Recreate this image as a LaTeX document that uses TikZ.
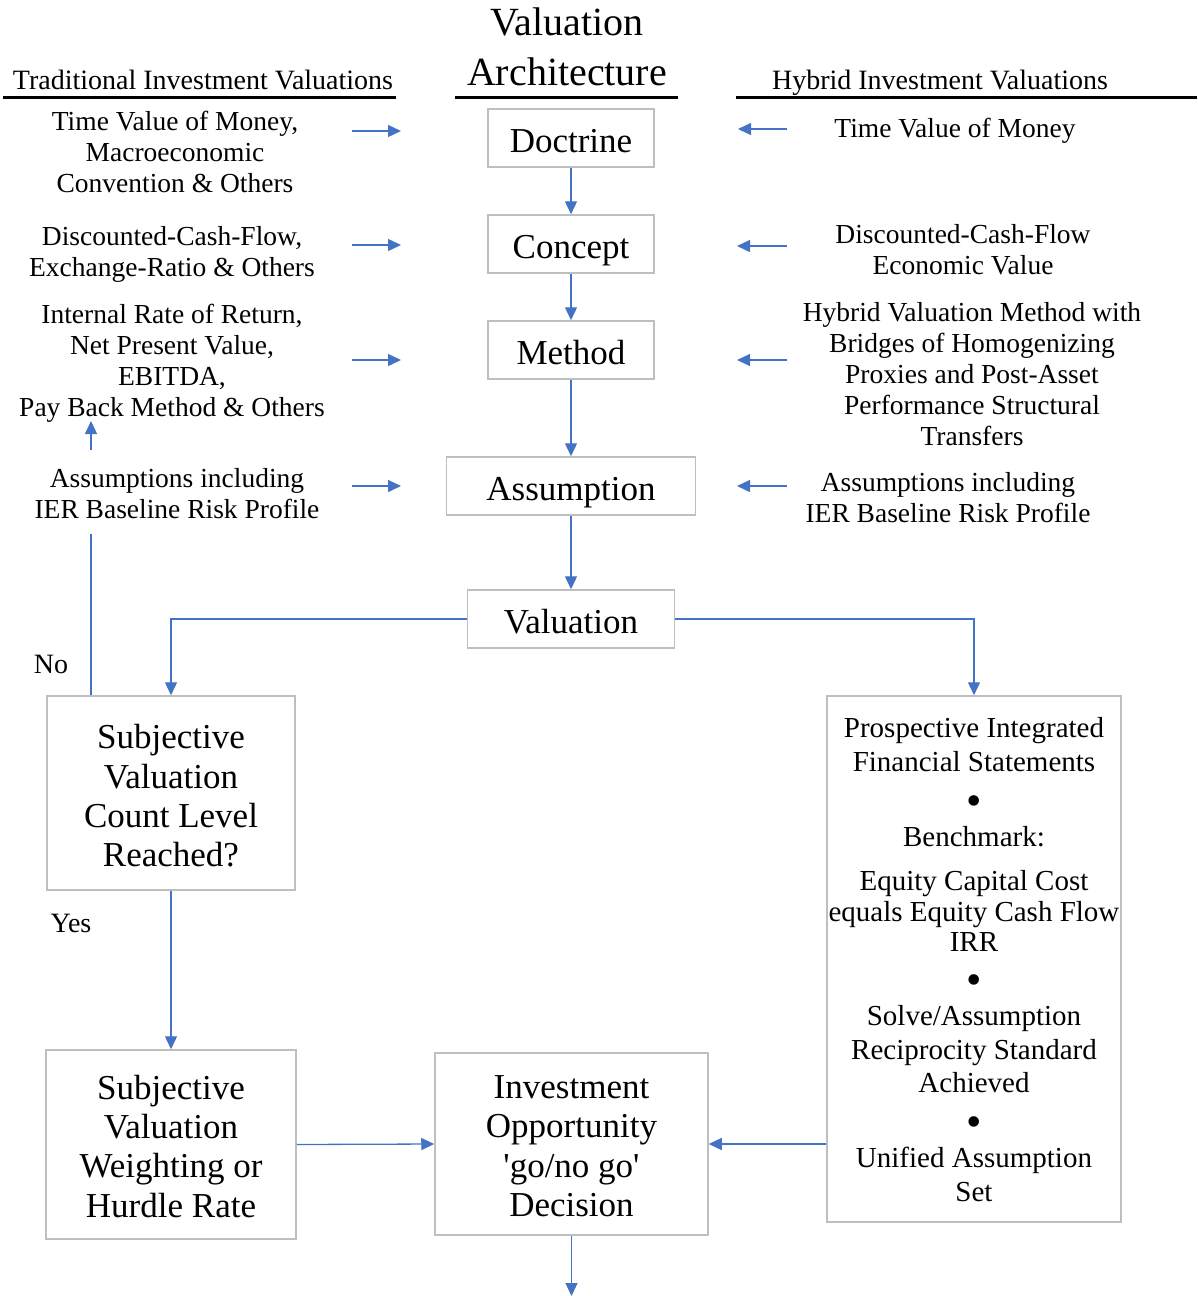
\documentclass[tikz,border=0pt]{standalone}
\usepackage{fontspec}
\setmainfont{Liberation Serif}
\usetikzlibrary{arrows.meta}
\definecolor{boxgray}{HTML}{BFBFBF}
\definecolor{arrblue}{HTML}{4472C4}
\newcommand{\txtS}{\fontsize{27.5}{31}\selectfont}
\newcommand{\txtB}{\fontsize{35}{39.3}\selectfont}
\newcommand{\txtT}{\fontsize{40}{50}\selectfont}
\newcommand{\txtP}{\fontsize{29}{34}\selectfont}
\newcommand{\bigdot}{\raisebox{-6pt}{\fontsize{44}{34}\selectfont\textbullet}}
\newcommand{\toprule}[1]{\rule{0pt}{#1}}
\begin{document}
\begin{tikzpicture}[x=1pt,y=-1pt,
  box/.style={draw=boxgray, line width=1.5pt, inner sep=0pt, font=\txtB, align=center},
  sbox/.style={box,
    execute at begin node={\rule{0pt}{40.5pt}}, execute at end node={\rule[-11.8pt]{0pt}{11.8pt}}},
  arr/.style={draw=arrblue, line width=1.3pt, -{Triangle[length=13pt,width=12pt]}},
  plainline/.style={draw=arrblue, line width=1.3pt},
  lbl/.style={font=\txtS, align=center, inner sep=0pt, yshift=-5pt,
    execute at begin node=\strut, execute at end node=\strut},
  rule/.style={line width=3pt, black}]
\useasboundingbox (0,0) rectangle (1197,1296);

% titles and headers
\node[font=\txtT, align=center, inner sep=0pt] (title) at (567,47) {Valuation\\Architecture};
\node[lbl, font=\fontsize{28}{31}\selectfont, yshift=3pt] (hleft) at (203,81) {Traditional Investment Valuations};
\node[lbl, font=\fontsize{28}{31}\selectfont, yshift=3pt] (hright) at (940,81) {Hybrid Investment Valuations};
\draw[rule] (3,97) -- (396,97);
\draw[rule] (455,97) -- (678,97);
\draw[rule] (736,97) -- (1197,97);

% central boxes
\node[sbox, minimum width=166, minimum height=58] (doc) at (571,138) {Doctrine};
\node[sbox, minimum width=166, minimum height=58] (con) at (571,244) {Concept};
\node[sbox, minimum width=166, minimum height=58] (met) at (571,350) {Method};
\node[sbox, minimum width=249, minimum height=58] (ass) at (571,486) {Assumption};
\node[sbox, minimum width=207, minimum height=58] (val) at (571,619) {Valuation};
\node[box, minimum width=248, minimum height=194] (subj) at (171,793) {\toprule{30pt}Subjective\\Valuation\\Count Level\\Reached?};
\node[box, minimum width=250, minimum height=189] (wgt) at (171,1144.5) {\toprule{28pt}Subjective\\Valuation\\Weighting or\\Hurdle Rate};
\node[box, minimum width=273, minimum height=182] (inv) at (571.5,1144) {\toprule{27.5pt}Investment\\Opportunity\\\textquotesingle go/no go\textquotesingle\\Decision};
\node[box, font=\txtP, minimum width=294, minimum height=526] (pro) at (974,959)
 {\toprule{21pt}Prospective Integrated\\Financial Statements\\[4pt]
  \bigdot\\[3pt]
  Benchmark:\\[10pt]
  Equity Capital Cost\\[-3pt]
  equals Equity Cash Flow\\[-4pt]
  IRR\\[3pt]
  \bigdot\\[3pt]
  Solve/Assumption\\
  Reciprocity Standard\\[-1pt]
  Achieved\\[4pt]
  \bigdot\\[3pt]
  Unified Assumption\\
  Set};

% left texts
\node[lbl] (l1) at (175,151) {Time Value of Money,\\Macroeconomic\\Convention \& Others};
\node[lbl] (l2) at (172,251.5) {Discounted-Cash-Flow,\\Exchange-Ratio \& Others};
\node[lbl] (l3) at (172,359.5) {Internal Rate of Return,\\Net Present Value,\\EBITDA,\\Pay Back Method \& Others};
\node[lbl] (l4) at (177,493) {Assumptions including\\IER Baseline Risk Profile};
% right texts
\node[lbl, yshift=3pt] (r1) at (955,129) {Time Value of Money};
\node[lbl] (r2) at (963,249.5) {Discounted-Cash-Flow\\Economic Value};
\node[lbl] (r3) at (972,373.5) {Hybrid Valuation Method with\\Bridges of Homogenizing\\Proxies and Post-Asset\\Performance Structural\\Transfers};
\node[lbl] (r4) at (948,497.5) {Assumptions including\\IER Baseline Risk Profile};

\node[lbl, font=\fontsize{28}{31}\selectfont, yshift=2pt] (no) at (51,664) {No};
\node[lbl, font=\fontsize{28}{31}\selectfont, yshift=2pt] (yes) at (71,923) {Yes};

% side arrow end points
\coordinate (la1s) at (352,131); \coordinate (la1e) at (401,131);
\coordinate (la2s) at (352,245); \coordinate (la2e) at (401,245);
\coordinate (la3s) at (352,360); \coordinate (la3e) at (401,360);
\coordinate (la4s) at (352,486); \coordinate (la4e) at (401,486);
\coordinate (ra1s) at (787,129); \coordinate (ra1e) at (738,129);
\coordinate (ra2s) at (787,246); \coordinate (ra2e) at (737,246);
\coordinate (ra3s) at (787,360); \coordinate (ra3e) at (737,360);
\coordinate (ra4s) at (787,486); \coordinate (ra4e) at (737,486);
\foreach \n in {la1,la2,la3,la4,ra1,ra2,ra3,ra4} {\draw[arr] (\n s) -- (\n e);}

% main flow
\draw[arr] (doc.south) -- (con.north);
\draw[arr] (con.south) -- (met.north);
\draw[arr] (met.south) -- (ass.north -| met.south);
\draw[arr] (ass.south -| doc.south) -- (val.north -| doc.south);
\draw[arr] (val.west) -| (subj.north);
\draw[arr] (val.east) -| (pro.north);
\draw[arr] (subj.south) -- (wgt.north);
\draw[arr] (wgt.east) -- (inv.west);
\draw[arr] (inv.east -| pro.west) -- (inv.east);
\coordinate (outend) at (571.5,1296);
\draw[arr] (inv.south) -- (outend);

% "No" loop
\coordinate (nobot) at (91,534);
\coordinate (nostart) at (91,450);
\coordinate (notip) at (91,421);
\draw[plainline] (nobot |- subj.north) -- (nobot);
\draw[arr] (nostart) -- (notip);
\end{tikzpicture}
\end{document}
